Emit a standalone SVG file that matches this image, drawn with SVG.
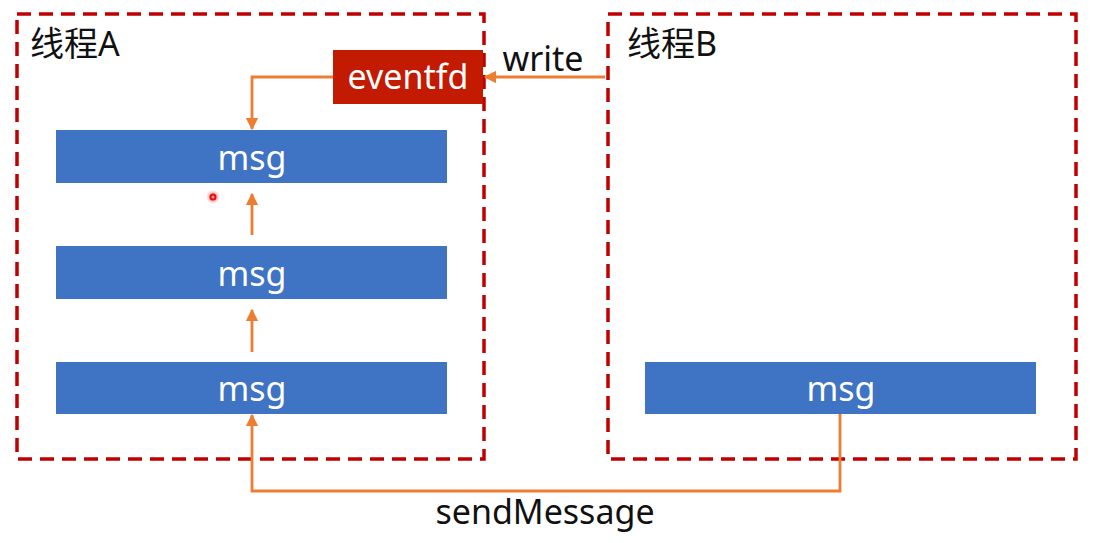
<svg xmlns="http://www.w3.org/2000/svg" width="1101" height="543" viewBox="0 0 1101 543">
<defs>
<style>
.frame{fill:none;stroke:#c00000;stroke-width:3.5;stroke-dasharray:14 8}
.msg{fill:#3f73c4}
.lbl{font-family:"Noto Sans","Noto Sans CJK SC",sans-serif;font-size:34px;text-anchor:middle}
.white{fill:#ffffff}
.dark{fill:#111111}
.conn{fill:none;stroke:#ed7d31;stroke-width:2.8}
</style>
<marker id="ah" viewBox="0 0 10 10" refX="9" refY="5" markerWidth="4.5" markerHeight="4.5" orient="auto" markerUnits="strokeWidth">
<path d="M0,0 L10,5 L0,10 z" fill="#ed7d31"/>
</marker>
<radialGradient id="glow">
<stop offset="0.4" stop-color="#ff3030" stop-opacity="0.5"/>
<stop offset="1" stop-color="#ff3030" stop-opacity="0"/>
</radialGradient>
</defs>
<rect width="1101" height="543" fill="#ffffff"/>
<g id="threadA">
<rect class="frame" x="17" y="14" width="467" height="445"/>
<text class="lbl dark" x="30" y="56" style="text-anchor:start">线程A</text>
</g>
<g id="threadB">
<rect class="frame" x="608" y="14" width="468" height="445"/>
<text class="lbl dark" x="627" y="56" style="text-anchor:start">线程B</text>
</g>
<g id="eventfd">
<rect x="333" y="50" width="150" height="54" fill="#c31a02"/>
<text class="lbl white" x="408" y="89">eventfd</text>
</g>
<g id="msgA1">
<rect class="msg" x="56" y="130" width="391" height="53"/>
<text class="lbl white" x="252" y="170">msg</text>
</g>
<g id="msgA2">
<rect class="msg" x="56" y="246" width="391" height="53"/>
<text class="lbl white" x="252" y="286">msg</text>
</g>
<g id="msgA3">
<rect class="msg" x="56" y="362" width="391" height="52"/>
<text class="lbl white" x="252" y="401">msg</text>
</g>
<g id="msgB">
<rect class="msg" x="645" y="362" width="391" height="52"/>
<text class="lbl white" x="841" y="401">msg</text>
</g>
<g id="connectors">
<path class="conn" d="M605,77 H485" marker-end="url(#ah)"/>
<path class="conn" d="M333,77 H252 V129" marker-end="url(#ah)"/>
<path class="conn" d="M252,235 V194" marker-end="url(#ah)"/>
<path class="conn" d="M252,352 V310" marker-end="url(#ah)"/>
<path class="conn" d="M840,414 V491 H252 V415" marker-end="url(#ah)"/>
<text class="lbl dark" x="543" y="71">write</text>
<text class="lbl dark" x="545" y="524">sendMessage</text>
</g>
<circle cx="213" cy="197" r="7" fill="url(#glow)"/>
<circle cx="213" cy="197" r="2.5" fill="none" stroke="#e01010" stroke-width="2"/>
</svg>
